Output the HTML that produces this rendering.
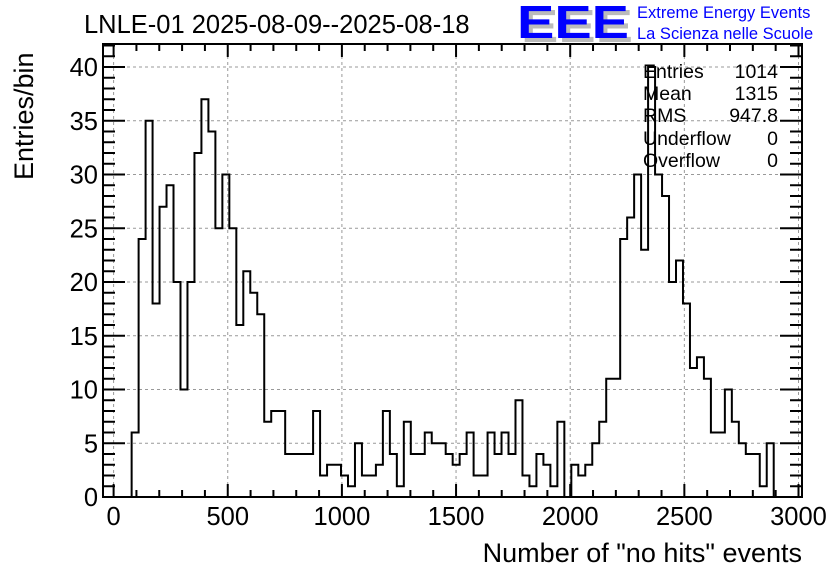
<!DOCTYPE html>
<html><head><meta charset="utf-8"><style>
body{margin:0;background:#fff;}
svg{display:block;font-family:"Liberation Sans",Arial,sans-serif;}
</style></head><body>
<svg id="c" width="836" height="572" viewBox="0 0 836 572">
  <text x="84" y="33" font-size="25.5">LNLE-01 2025-08-09--2025-08-18</text>
  <g>
    <text x="521" y="42" font-size="46" font-weight="bold" fill="#bbb" textLength="112" lengthAdjust="spacingAndGlyphs">EEE</text>
    <text x="517" y="38" font-size="46" font-weight="bold" fill="#0000ff" textLength="112" lengthAdjust="spacingAndGlyphs">EEE</text>
    <text x="637" y="18" font-size="16.5" fill="#0000ff">Extreme Energy Events</text>
    <text x="637" y="39" font-size="16.5" fill="#0000ff">La Scienza nelle Scuole</text>
  </g>
  <g id="grid"></g>
  <path id="hist" fill="none" stroke="#000" stroke-width="2"></path>
  <g id="axes"></g>
  <g font-size="19.5">
    <text x="643" y="78">Entries</text><text x="778" y="78" text-anchor="end">1014</text>
    <text x="643" y="100">Mean</text><text x="778" y="100" text-anchor="end">1315</text>
    <text x="643" y="122">RMS</text><text x="778" y="122" text-anchor="end">947.8</text>
    <text x="643" y="145">Underflow</text><text x="778" y="145" text-anchor="end">0</text>
    <text x="643" y="167">Overflow</text><text x="778" y="167" text-anchor="end">0</text>
  </g>
  <text x="802" y="562" font-size="27" text-anchor="end">Number of "no hits" events</text>
  <text transform="translate(33,180) rotate(-90)" font-size="27">Entries/bin</text>
</svg>
<script>
const binStart = 79;
const binWidth = 30.57;
const counts = [6,24,35,18,27,29,20,10,20,32,37,34,25,30,25,16,21,19,17,7,
 8,8,4,4,4,4,8,2,3,3,2,1,
 5,2,2,3,8,4,1,7,4,4,6,5,5,4,3,4,6,2,2,6,4,6,4,9,2,1,4,3,1,7,0,
 3,2,3,5,7,11,11,24,26,30,23,40,30,28,20,22,18,12,13,11,6,6,10,7,5,4,4,1,5];
const xTicks = [0,500,1000,1500,2000,2500,3000];
const yTicks = [0,5,10,15,20,25,30,35,40];

const NS="http://www.w3.org/2000/svg";
const L=103,R=802,T=44,B=497;
const X=v=>113.6+v*0.2283;
const Y=v=>497-v*10.75;
const grid=document.getElementById('grid'), axes=document.getElementById('axes');
function ln(p,x1,y1,x2,y2,st,w,dash){const e=document.createElementNS(NS,'line');
 e.setAttribute('x1',x1);e.setAttribute('y1',y1);e.setAttribute('x2',x2);e.setAttribute('y2',y2);
 e.setAttribute('stroke',st);e.setAttribute('stroke-width',w);if(dash)e.setAttribute('stroke-dasharray',dash);p.appendChild(e);return e;}
xTicks.forEach(t=>{const g=ln(grid,X(t),T,X(t),B,'#999',1,'3,3');
 
 });
yTicks.forEach(t=>{if(t===0)return;const g=ln(grid,L,Y(t),R,Y(t),'#999',1,'3,3');
 
 });
let d='M'+X(binStart)+','+Y(0);
counts.forEach((c,i)=>{const x0=X(binStart+i*binWidth),x1=X(binStart+(i+1)*binWidth);
 d+=' L'+x0+','+Y(c)+' L'+x1+','+Y(c);});
d+=' L'+X(binStart+counts.length*binWidth)+','+Y(0);
document.getElementById('hist').setAttribute('d',d);
const fr=document.createElementNS(NS,'rect');
fr.setAttribute('x',L);fr.setAttribute('y',T);fr.setAttribute('width',R-L);fr.setAttribute('height',B-T);
fr.setAttribute('fill','none');fr.setAttribute('stroke','#000');fr.setAttribute('stroke-width','2');


axes.appendChild(fr);
for(let v=0;v<=3000;v+=100){const maj=v%500===0,h=maj?13:7;
 ln(axes,X(v),B,X(v),B-h,'#000',2);ln(axes,X(v),T,X(v),T+h,'#000',2);}
for(let v=0;v<=42;v++){const maj=v%5===0,h=maj?22:12;
 ln(axes,L,Y(v),L+h,Y(v),'#000',2);ln(axes,R,Y(v),R-h,Y(v),'#000',2);}
xTicks.forEach(t=>{const e=document.createElementNS(NS,'text');e.setAttribute('x',X(t));e.setAttribute('y',525);
 e.setAttribute('font-size','25.5');e.setAttribute('text-anchor','middle');e.textContent=t;
 
 axes.appendChild(e);});
yTicks.forEach(t=>{const e=document.createElementNS(NS,'text');e.setAttribute('x',98);e.setAttribute('y',Y(t)+9);
 e.setAttribute('font-size','25.5');e.setAttribute('text-anchor','end');e.textContent=t;
 
 axes.appendChild(e);});
</script>
</body></html>
